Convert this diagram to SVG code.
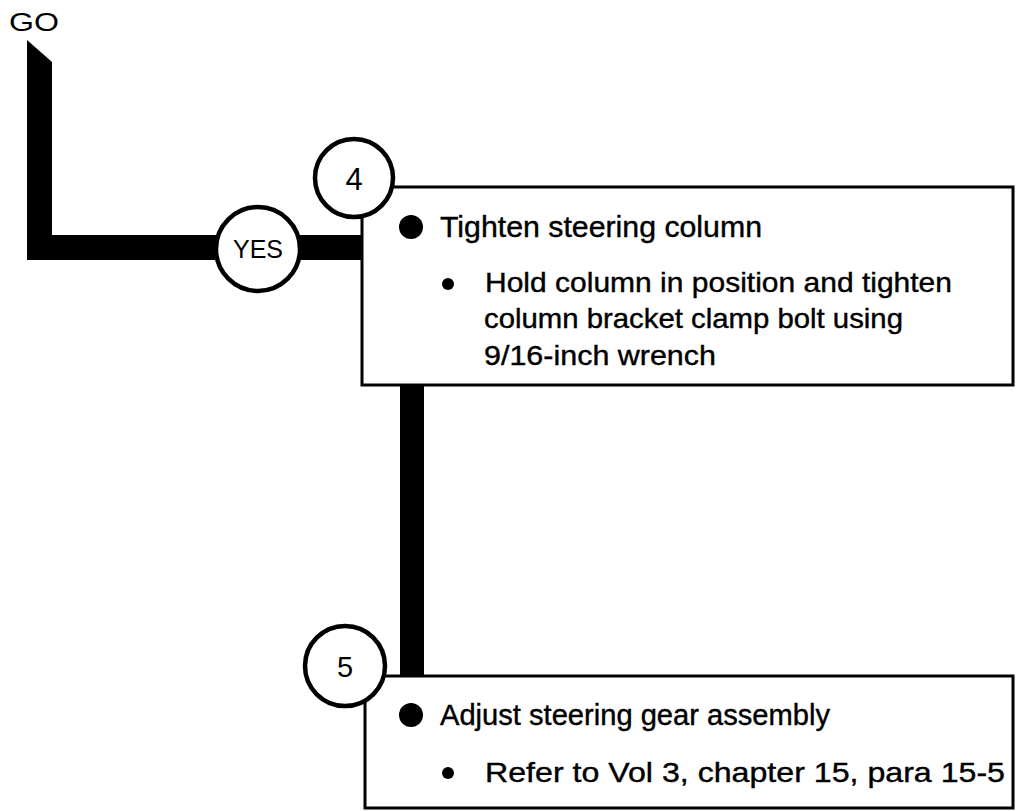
<svg xmlns="http://www.w3.org/2000/svg" width="1029" height="811" viewBox="0 0 1029 811">
<style>
.box{fill:#fff;stroke:#000;stroke-width:3}
.circ{fill:#fff;stroke:#000;stroke-width:4.5}
.t{font-family:"Liberation Sans",Arial,sans-serif;fill:#000}
.body{stroke:#000;stroke-width:0.4}
.main{font-size:29px}
.sub{font-size:28px}
.lbl{text-anchor:middle}
</style>
<rect width="1029" height="811" fill="#fff"/>
<g id="connectors">
<polygon points="27,40 52,62 52,235 362,235 362,260 27,260" fill="#000"/>
<rect x="400" y="384" width="24" height="293" fill="#000"/>
</g>
<text class="t" x="9" y="31" font-size="25" textLength="50" lengthAdjust="spacingAndGlyphs">GO</text>
<g id="node-yes">
<circle class="circ" cx="258" cy="249" r="42"/>
<text class="t lbl" x="258" y="258" font-size="25" textLength="50" lengthAdjust="spacingAndGlyphs">YES</text>
</g>
<g id="node-4">
<rect class="box" x="362" y="187" width="651" height="198"/>
<circle class="circ" cx="354" cy="178" r="39"/>
<text class="t lbl" x="354" y="190" font-size="31">4</text>
<circle cx="411" cy="227" r="12" fill="#000"/>
<text class="t body main" x="440" y="237" textLength="322" lengthAdjust="spacingAndGlyphs">Tighten steering column</text>
<circle cx="448" cy="284" r="6" fill="#000"/>
<text class="t body sub" x="485" y="292" textLength="467" lengthAdjust="spacingAndGlyphs">Hold column in position and tighten</text>
<text class="t body sub" x="484" y="328" textLength="419" lengthAdjust="spacingAndGlyphs">column bracket clamp bolt using</text>
<text class="t body sub" x="484" y="365" textLength="232" lengthAdjust="spacingAndGlyphs">9/16-inch wrench</text>
</g>
<g id="node-5">
<rect class="box" x="365" y="676" width="648" height="132"/>
<circle class="circ" cx="345" cy="666" r="40"/>
<text class="t lbl" x="345" y="677" font-size="29">5</text>
<circle cx="411" cy="715" r="12" fill="#000"/>
<text class="t body main" x="440" y="725" textLength="390" lengthAdjust="spacingAndGlyphs">Adjust steering gear assembly</text>
<circle cx="448" cy="773" r="6" fill="#000"/>
<text class="t body sub" x="485" y="782" textLength="520" lengthAdjust="spacingAndGlyphs">Refer to Vol 3, chapter 15, para 15-5</text>
</g>
</svg>
